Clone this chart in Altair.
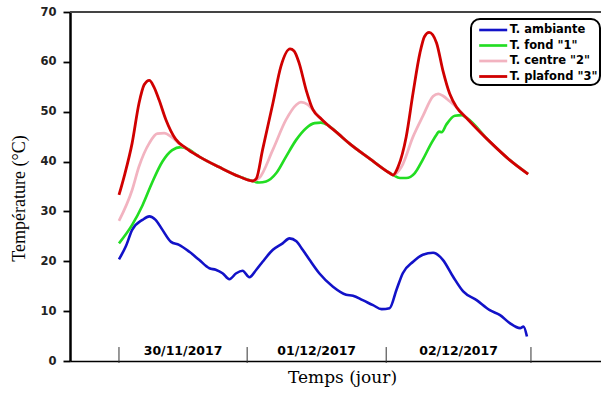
import altair as alt
import pandas as pd

# ---------------- data ----------------
series_names = ["T. ambiante", 'T. fond "1"', 'T. centre "2"', 'T. plafond "3"']
series_colors = ["#1212C8", "#22DD22", "#F2B3C0", "#D00000"]
series_widths = [2.6, 2.8, 1.8, 2.8]

# time in hours from the start of the record
amb_t = [0, 1.2, 2.3, 4.1, 5.3, 6.4, 7.6, 9.1, 10.5, 12.3, 14.0, 15.8, 16.9, 18.1, 19.3,
         20.5, 21.6, 22.8, 24.0, 25.1, 26.9, 28.6, 29.8, 31.0, 32.1, 33.3, 35.0, 37.4,
         39.7, 40.9, 42.6, 44.4, 45.9, 47.3, 48.5, 49.6, 51.4, 53.1, 54.9, 56.6, 58.4,
         60.2, 62.5, 64.8, 66.6, 68.3, 70.1, 70.7, 71.3]
amb_v = [20.4, 23.0, 26.3, 28.3, 29.0, 28.3, 26.3, 23.9, 23.3, 21.9, 20.3, 18.6, 18.3, 17.6,
         16.4, 17.6, 18.1, 16.8, 18.3, 19.9, 22.3, 23.6, 24.6, 24.0, 22.3, 20.3, 17.6, 14.9,
         13.3, 13.1, 12.2, 11.2, 10.4, 10.6, 14.3, 17.6, 19.9, 21.3, 21.7, 20.3, 16.9, 13.9,
         12.2, 10.2, 9.2, 7.6, 6.6, 6.9, 4.9]

fond_t = [0, 2.3, 4.1, 5.8, 7.6, 9.3, 10.8, 11.7, 14.0, 17.5, 21.0, 23.3, 24.5, 25.7, 27.5,
          29.2, 31.0, 32.7, 34.2, 35.3, 36.5, 38.5, 40.3, 43.8, 47.3, 47.9, 49.1, 50.2, 51.7,
          53.1, 54.6, 55.5, 55.9, 56.4, 57.2, 58.7, 59.9, 60.7, 64.8, 68.3, 71.5]
fond_v = [23.6, 27.3, 31.2, 35.8, 40.0, 42.3, 42.9, 42.7, 41.0, 38.9, 37.0, 36.1, 35.8, 36.0,
          37.7, 41.0, 44.4, 46.7, 47.7, 47.8, 47.3, 45.4, 43.6, 40.6, 37.7, 37.3, 36.7, 36.7,
          37.7, 40.4, 43.7, 45.4, 46.0, 45.9, 47.4, 49.2, 49.3, 48.8, 44.0, 40.3, 37.5]

centre_t = [0, 2.3, 3.5, 5.3, 6.7, 7.9, 9.1, 10.5, 11.7, 14.0, 17.5, 21.0, 23.3, 24.5, 26.9,
            29.2, 31.0, 31.8, 33.0, 34.2, 35.4, 38.5, 40.3, 43.8, 47.3, 47.9, 49.4, 51.4,
            53.1, 54.9, 55.8, 56.6, 57.8, 59.0, 60.7, 64.8, 68.3, 71.5]
centre_v = [28.1, 34.3, 39.0, 43.7, 45.6, 45.7, 45.0, 43.6, 42.7, 41.0, 38.9, 37.0, 36.1, 36.7,
            42.4, 48.4, 51.4, 51.9, 51.4, 50.0, 48.5, 45.4, 43.6, 40.6, 37.7, 37.3, 39.0, 45.0,
            49.1, 53.1, 53.6, 53.2, 52.1, 50.9, 48.8, 44.0, 40.3, 37.5]

plafond_t = [0, 0.9, 2.3, 3.5, 4.4, 5.3, 6.1, 7.0, 8.2, 9.9, 11.7, 14.0, 17.5, 21.0, 23.3,
             24.0, 25.1, 26.9, 28.3, 29.9, 30.6, 31.5, 32.7, 33.9, 35.4, 38.5, 40.3, 43.8,
             47.3, 47.9, 48.8, 50.2, 51.4, 52.6, 53.4, 54.2, 55.5, 56.6, 57.8, 59.0, 60.7,
             64.8, 68.3, 71.5]
plafond_v = [33.3, 37.0, 43.7, 51.7, 55.4, 56.3, 55.0, 52.4, 48.4, 44.5, 42.7, 41.0, 38.9,
             37.0, 36.1, 36.6, 42.4, 51.7, 59.1, 62.6, 62.2, 59.7, 54.4, 50.4, 48.5, 45.4,
             43.6, 40.6, 37.7, 37.3, 39.0, 45.0, 53.8, 61.8, 65.1, 65.9, 63.8, 58.3, 53.6,
             50.9, 48.8, 44.0, 40.3, 37.5]

day_ticks = [0, 22.4, 46.7, 72]
day_labels = ["30/11/2017", "01/12/2017", "02/12/2017"]
day_label_pos = [11.2, 34.55, 59.35]
y_tick_values = list(range(0, 75, 5))
x_domain = [-8.56, 84.24]
y_domain = [0, 70]

# ---------------- tables ----------------
rows = []
for name, ts, vs in zip(series_names,
                        [amb_t, fond_t, centre_t, plafond_t],
                        [amb_v, fond_v, centre_v, plafond_v]):
    for t, v in zip(ts, vs):
        rows.append({"serie": name, "t": t, "temp": v})
df = pd.DataFrame(rows)
ticks_df = pd.DataFrame({"t": day_ticks})
labels_df = pd.DataFrame({"t": day_label_pos, "label": day_labels})

W, H = 531, 349

x_scale = alt.Scale(domain=x_domain, nice=False, zero=False)
y_scale = alt.Scale(domain=y_domain, nice=False)

x_enc = alt.X("t:Q", scale=x_scale,
              axis=alt.Axis(title="Temps (jour)", labels=False, ticks=False, grid=False,
                            domainColor="black", domainWidth=1.5,
                            titleFont="DejaVu Serif", titleFontSize=17,
                            titleFontWeight="normal", titleColor="black",
                            titlePadding=8, titleX=272))
y_enc = alt.Y("temp:Q", scale=y_scale,
              axis=alt.Axis(title="Température (°C)", values=y_tick_values,
                            labelExpr="datum.value % 10 === 0 ? datum.label : ''",
                            tickSize={"condition": {"test": "datum.value % 10 === 0", "value": 7}, "value": 4},
                            tickColor="black", tickWidth=1.8,
                            domainColor="black", domainWidth=2.5, grid=False,
                            labelFont="DejaVu Sans", labelFontWeight="bold",
                            labelFontSize=11.5, labelColor="#222222", labelPadding=7,
                            titleFont="Liberation Serif", titleFontSize=18,
                            titleFontWeight="normal", titleColor="black",
                            titlePadding=11, titleY=186))

lines = alt.Chart(df).mark_line(interpolate="monotone").encode(
    x=x_enc,
    y=y_enc,
    color=alt.Color("serie:N",
                    scale=alt.Scale(domain=series_names, range=series_colors),
                    legend=alt.Legend(title=None, orient="none", legendX=401, legendY=7,
                                      symbolType="M-2,0H2", symbolSize=196,
                                      symbolStrokeWidth=3, symbolOffset=11.2,
                                      labelFont="DejaVu Sans", labelFontWeight="bold",
                                      labelFontSize=11.5, labelColor="black",
                                      labelOffset=8, padding=2.5, rowPadding=1.5,
                                      strokeColor="black", cornerRadius=9,
                                      fillColor="white")),
    strokeWidth=alt.StrokeWidth("serie:N",
                                scale=alt.Scale(domain=series_names, range=series_widths),
                                legend=None),
)

top_border = alt.Chart(ticks_df).mark_rule(color="#444444", strokeWidth=2).encode(
    y=alt.datum(70, scale=y_scale),
    x=alt.value(0),
    x2=alt.value(W),
)

x_ticks = alt.Chart(ticks_df).mark_rule(color="#333333", strokeWidth=1).encode(
    x=alt.X("t:Q", scale=x_scale),
    y=alt.datum(2.8),
    y2=alt.datum(-0.4),
)

x_labels = alt.Chart(labels_df).mark_text(
    font="DejaVu Sans", fontWeight="bold", fontSize=12.5, color="black",
    baseline="alphabetic", align="center"
).encode(
    x=alt.X("t:Q", scale=x_scale),
    y=alt.datum(1.2),
    text="label:N",
)

chart = alt.layer(lines, top_border, x_ticks, x_labels).properties(
    width=W, height=H,
    autosize=alt.AutoSizeParams(type="none"),
    padding={"left": 70, "top": 12, "right": 0, "bottom": 32},
).configure_view(stroke=None).configure_legend(strokeWidth=2)

chart.save("out.html", embed_options={"renderer": "svg", "actions": False})
